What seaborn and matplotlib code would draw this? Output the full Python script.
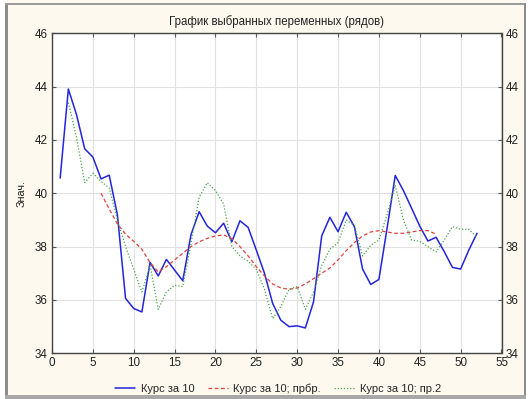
import numpy as np
import pandas as pd
import matplotlib
matplotlib.use("Agg")
import matplotlib.pyplot as plt
from matplotlib.patches import Rectangle
from matplotlib.lines import Line2D
import seaborn as sns

sns.set_theme(style="white")
plt.rcParams['font.family'] = ['Liberation Sans', 'DejaVu Sans']

# ---- data ----
x_kurs = list(range(1, 53))
kurs = [40.57, 43.91, 42.95, 41.67, 41.36, 40.54, 40.68, 39.2, 36.06, 35.68,
        35.55, 37.41, 36.9, 37.52, 37.12, 36.72, 38.44, 39.31, 38.77, 38.52,
        38.88, 38.18, 38.97, 38.72, 37.87, 37.0, 35.87, 35.24, 35.0, 35.03,
        34.95, 35.93, 38.4, 39.1, 38.56, 39.29, 38.75, 37.16, 36.58, 36.77,
        38.69, 40.67, 40.1, 39.44, 38.77, 38.21, 38.35, 37.81, 37.22, 37.16,
        37.87, 38.5]

x_prbr = list(range(6, 48))
prbr = [40.0, 39.41, 38.85, 38.47, 38.2, 37.9, 37.4, 37.05, 37.25, 37.5,
        37.75, 38.0, 38.18, 38.31, 38.4, 38.44, 38.3, 38.0, 37.65, 37.25,
        36.9, 36.6, 36.45, 36.4, 36.45, 36.6, 36.8, 37.0, 37.2, 37.5,
        37.85, 38.15, 38.4, 38.55, 38.6, 38.55, 38.5, 38.5, 38.55, 38.6,
        38.6, 38.47]

x_pr2 = list(range(2, 53))
pr2 = [43.4, 42.1, 40.4, 40.75, 40.45, 40.2, 39.0, 38.0, 37.15, 36.3,
       37.3, 35.65, 36.3, 36.55, 36.5, 38.1, 39.85, 40.4, 40.1, 39.6,
       38.0, 37.65, 37.45, 37.15, 36.4, 35.3, 35.75, 36.4, 36.5, 35.65,
       36.3, 37.3, 37.9, 38.15, 39.0, 38.8, 37.65, 38.05, 38.25, 39.2,
       40.3, 39.0, 38.25, 38.2, 38.0, 37.8, 38.25, 38.75, 38.65, 38.65,
       38.35]

labels = ["Курс за 10", "Курс за 10; прбр.", "Курс за 10; пр.2"]
title = "График выбранных переменных (рядов)"
ylabel = "Знач."
xticks = list(range(0, 60, 5))
yticks = list(range(34, 48, 2))

# ---- figure ----
W, H = 530, 399
fig = plt.figure(figsize=(W / 100, H / 100), dpi=100)
fig.patch.set_facecolor("#fdf9ee")

def rect(x0, y0, w, h, color):
    fig.patches.append(Rectangle((x0 / W, 1 - (y0 + h) / H), w / W, h / H,
                                 transform=fig.transFigure, color=color,
                                 zorder=0, linewidth=0))

rect(0, 0, 5, H, "#ffffff")
rect(5, 4, 3, H - 4, "#8c8c8c")
rect(5, 3, W - 5, 2, "#9a9a9a")
rect(W - 6, 3, 2, H - 3, "#8c8c8c")
rect(W - 4, 0, 4, H, "#ffffff")
rect(5, H - 4, W - 9, 4, "#a8a8a8")

left, right, top, bottom = 52, 501.5, 33.3, 353.3
ax = fig.add_axes([left / W, 1 - bottom / H, (right - left) / W, (bottom - top) / H])
ax.set_facecolor("white")

c_blue = "#2424dc"
c_red = "#e0413a"
c_green = "#4aa64a"

sns.lineplot(x=x_kurs, y=kurs, ax=ax, color=c_blue, linewidth=1.1)
sns.lineplot(x=x_prbr, y=prbr, ax=ax, color=c_red, linewidth=0.9, linestyle=(0, (3, 2)))
sns.lineplot(x=x_pr2, y=pr2, ax=ax, color=c_green, linewidth=0.9, linestyle=(0, (1, 1.5)))

ax.set_xlim(0, 55)
ax.set_ylim(34, 46)
ax.set_xticks(xticks)
ax.set_yticks(yticks)
ax.grid(True, color="#e2e2e2", linewidth=0.8)
for s in ax.spines.values():
    s.set_color("#444444")
    s.set_linewidth(1.0)
ax.tick_params(direction="in", length=3, width=0.8, color="#555555",
               top=True, right=True, left=True, bottom=True,
               labelright=True, labelsize=8.4, labelcolor="#222222", pad=3)
ax.set_xlabel("")
ax.set_ylabel(ylabel, fontsize=7.8, color="#222222", labelpad=6)
ax.set_title(title, fontsize=8.3, color="#222222", pad=6)

handles = [Line2D([], [], color=c_blue, linewidth=1.1),
           Line2D([], [], color=c_red, linewidth=0.9, linestyle=(0, (3, 2))),
           Line2D([], [], color=c_green, linewidth=0.9, linestyle=(0, (1, 1.5)))]
fig.legend(handles, labels, loc="center", bbox_to_anchor=(278 / W, 1 - 389 / H),
           ncol=3, frameon=False, fontsize=8.0, handlelength=1.8,
           handletextpad=0.5, columnspacing=1.2)

fig.savefig("out.png", dpi=100, facecolor=fig.get_facecolor())
